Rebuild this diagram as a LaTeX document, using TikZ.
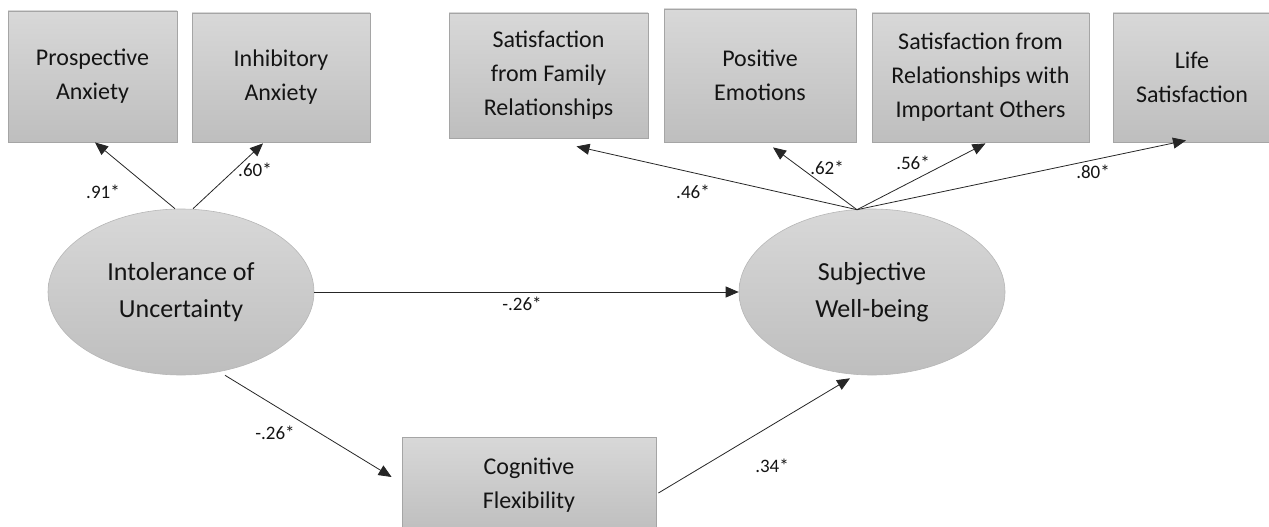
\documentclass[tikz,border=0pt]{standalone}
\usepackage{fontspec}
\setmainfont{Carlito}
\usetikzlibrary{shapes.geometric,arrows.meta,calc}
\definecolor{boxtop}{RGB}{216,216,216}
\definecolor{boxbot}{RGB}{190,190,190}
\definecolor{boxline}{RGB}{165,165,165}
\definecolor{ink}{RGB}{20,20,20}
\tikzset{
  obsbox/.style={rectangle, draw=boxline, line width=0.8pt, top color=boxtop, bottom color=boxbot,
    text=ink, align=center, inner sep=0pt, font=\fontsize{24}{34}\selectfont},
  latent/.style={ellipse, draw=boxline!80, line width=0.6pt, top color=boxtop, bottom color=boxbot,
    text=ink, align=center, inner sep=0pt, minimum width=266pt, minimum height=166pt,
    font=\fontsize{26}{37}\selectfont},
  arr/.style={draw=black!85, line width=0.8pt, -{Triangle[length=13pt,width=11pt]}},
  coef/.style={text=ink, font=\fontsize{19}{21}\selectfont, inner sep=0pt}
}
\begin{document}
\begin{tikzpicture}[x=1pt,y=-1pt]
\useasboundingbox (0,0) rectangle (1269,527);
% observed boxes
\node[obsbox, minimum width=169pt, minimum height=131pt] (PA) at (92.5,76.5) {Prospective\\Anxiety};
\node[obsbox, minimum width=178pt, minimum height=129pt] (IA) at (281,77.5) {Inhibitory\\Anxiety};
\node[obsbox, minimum width=199pt, minimum height=125pt] (FR) at (548.5,75.5) {Satisfaction\\from Family\\Relationships};
\node[obsbox, minimum width=192pt, minimum height=133pt] (PE) at (760,75.5) {Positive\\Emotions};
\node[obsbox, minimum width=217pt, minimum height=129pt] (IO) at (980.5,77.5) {Satisfaction from\\Relationships with\\Important Others};
\node[obsbox, minimum width=158pt, minimum height=129pt] (LS) at (1192,77.5) {Life\\Satisfaction};
\node[obsbox, minimum width=254pt, minimum height=96pt] (CF) at (529,485) {Cognitive\\Flexibility};
% latent ellipses
\node[latent] (IU) at (181,292) {Intolerance of\\Uncertainty};
\node[latent] (SW) at (872,292) {Subjective\\Well-being};
% connector end points
\coordinate (iuA) at ($(IU.north)+(-6,0)$);
\coordinate (iuB) at ($(IU.north)+(12,0)$);
\coordinate (fan) at ($(SW.north)+(-15,1)$);
\coordinate (iuS) at ($(IU.south)+(44,0)$);
\coordinate (cfIn) at ($(CF.west)+(-10,-8)$);
\coordinate (cfOut) at ($(CF.east)+(2,8)$);
\coordinate (swIn) at ($(SW.south)+(-22,3)$);
\coordinate (paIn) at ($(PA.south)+(2.5,0)$);
\coordinate (iaIn) at ($(IA.south)+(-18,1)$);
\coordinate (frIn) at ($(FR.south)+(28,8)$);
\coordinate (peIn) at ($(PE.south)+(13,5)$);
\coordinate (ioIn) at ($(IO.south)+(5,1)$);
\coordinate (lsIn) at ($(LS.south)+(-6,-2)$);
% connectors
\draw[arr] (iuA) -- (paIn);
\draw[arr] (iuB) -- (iaIn);
\draw[arr] (fan) -- (frIn);
\draw[arr] (fan) -- (peIn);
\draw[arr] (fan) -- (ioIn);
\draw[arr] (fan) -- (lsIn);
\draw[arr] (IU.east) -- (SW.west);
\draw[arr] (iuS) -- (cfIn);
\draw[arr] (cfOut) -- (swIn);
% coefficients
\node[coef] (c1) at (103,192) {.91*};
\node[coef] (c2) at (255,170) {.60*};
\node[coef] (c3) at (693,192) {.46*};
\node[coef] (c4) at (827,168) {.62*};
\node[coef] (c5) at (913,163) {.56*};
\node[coef] (c6) at (1093,172) {.80*};
\node[coef] (c7) at (522,304) {-.26*};
\node[coef] (c8) at (275,433) {-.26*};
\node[coef] (c9) at (772,466) {.34*};
\end{tikzpicture}
\end{document}
